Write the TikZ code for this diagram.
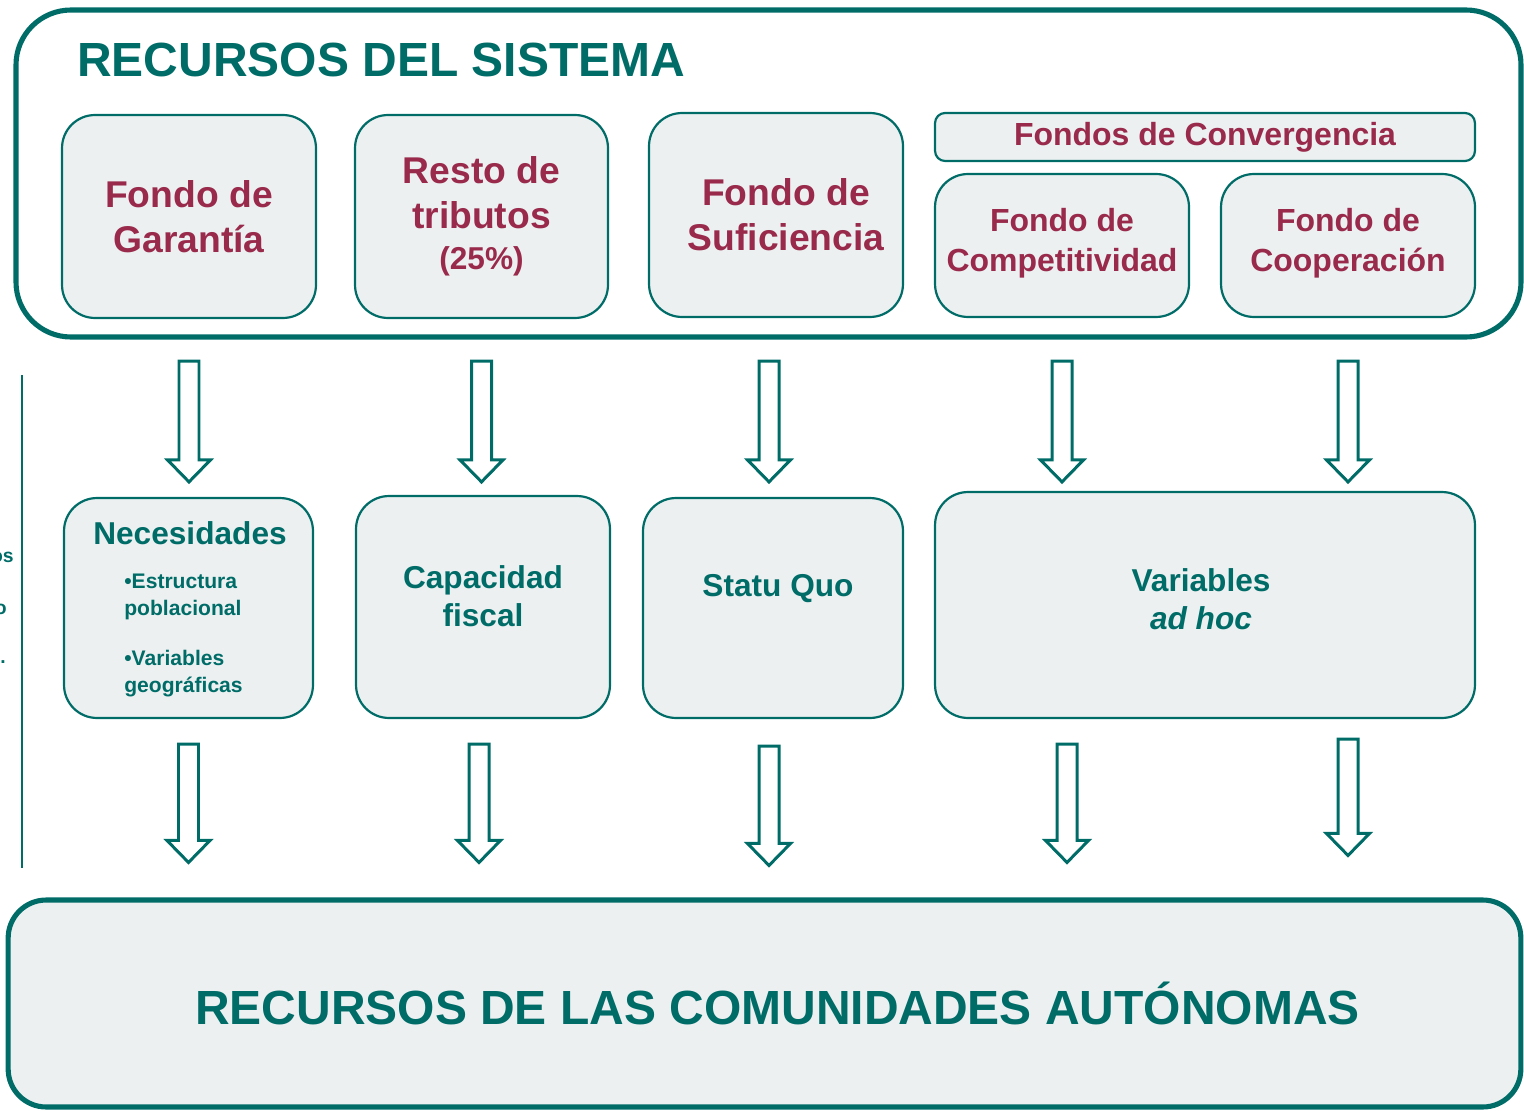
\documentclass[tikz,border=0pt]{standalone}
\usepackage{fontspec}
\setmainfont{Liberation Sans}
\usepackage{tikz}
\usetikzlibrary{calc}

\definecolor{tealdark}{RGB}{0,108,104}
\definecolor{crimson}{RGB}{153,42,75}
\definecolor{boxgray}{RGB}{236,240,241}

\tikzset{
  fondo/.style={draw=tealdark, fill=boxgray, line width=1.25pt, rounded corners=0.66cm,
    inner sep=0pt, align=center, text=crimson},
  bigfont/.style={font=\bfseries\fontsize{21.2}{25.5}\selectfont},
  midfont/.style={font=\bfseries\fontsize{18.2}{22.5}\selectfont},
  varbox/.style={draw=tealdark, fill=boxgray, line width=1.25pt, rounded corners=0.66cm,
    inner sep=0pt},
  vartext/.style={text=tealdark, align=center, inner sep=0pt, font=\bfseries\fontsize{18}{21.5}\selectfont},
  margintext/.style={anchor=east, inner sep=0pt, text=tealdark, font=\bfseries\fontsize{11}{14}\selectfont},
  hollow arrow/.style={draw=tealdark, fill=white, line width=1.7pt, line join=miter},
  frame/.style={draw=tealdark, line width=2.9pt}
}

% hollow block arrow: start anchor, target anchor, top gap, tip gap
\newcommand{\blockarrow}[4]{%
  \coordinate (ba-s) at ($(#1)+(0,#3)$);
  \coordinate (ba-t) at ($(#1 |- #2)+(0,-#4)$);
  \draw[hollow arrow] ($(ba-s)+(-10,0)$) -- ($(ba-t)+(-10,-22)$) -- ($(ba-t)+(-21.5,-22)$)
    -- (ba-t) -- ($(ba-t)+(21.5,-22)$) -- ($(ba-t)+(10,-22)$) -- ($(ba-s)+(10,0)$) -- cycle;}

\begin{document}
\begin{tikzpicture}[x=0.02cm, y=-0.02cm]
  \useasboundingbox (0,0) rectangle (1524,1111);
  \clip (0,0) rectangle (1524,1111);

  % Frame of the system resources
  \draw[frame, rounded corners=1.1cm] (16,10) rectangle (1521,337);
  \node[anchor=west, inner sep=0pt, text=tealdark, font=\bfseries\fontsize{27.3}{32}\selectfont]
    (sistema) at (77,60) {RECURSOS DEL SISTEMA};

  % Top row: the funds
  \node[fondo, bigfont, minimum width=5.08cm, minimum height=4.06cm] (garantia) at (189,216.5)
    {Fondo de\\Garantía};
  \node[fondo, bigfont, minimum width=5.06cm, minimum height=4.06cm] (resto) at (481.5,216.5)
    {Resto de\\tributos\\[-2pt]{\fontsize{18}{22}\selectfont(25\%)}};
  \node[fondo, bigfont, minimum width=5.08cm, minimum height=4.08cm] (suficiencia) at (776,215)
    {\hspace*{0.4cm}Fondo de\\\hspace*{0.4cm}Suficiencia};
  \node[fondo, midfont, rounded corners=0.2cm, minimum width=10.8cm, minimum height=0.96cm]
    (convergencia) at (1205,137) {Fondos de Convergencia};
  \node[fondo, midfont, minimum width=5.08cm, minimum height=2.86cm] (competitividad) at (1062,245.5)
    {Fondo de\\Competitividad\\[-16pt]};
  \node[fondo, midfont, minimum width=5.08cm, minimum height=2.86cm] (cooperacion) at (1348,245.5)
    {Fondo de\\Cooperación\\[-16pt]};

  % Middle row: the variables
  \node[varbox, minimum width=4.98cm, minimum height=4.4cm] (necesidades) at (188.5,608) {};
  \node[vartext, font=\bfseries\fontsize{18}{22}\selectfont] (necesidadestit) at (190,533) {Necesidades};
  \node[vartext, anchor=north west, align=left, font=\bfseries\fontsize{12}{15.3}\selectfont]
    (necesidadeslist) at (124,574) {•Estructura\\poblacional\\[13pt]•Variables\\geográficas};
  \node[varbox, minimum width=5.08cm, minimum height=4.44cm] (capacidad) at (483,607) {};
  \node[vartext] (capacidadtxt) at (483,596) {Capacidad\\fiscal};
  \node[varbox, minimum width=5.2cm, minimum height=4.4cm] (statuquo) at (773,608) {};
  \node[vartext] (statuquotxt) at (778,589) {Statu Quo};
  \node[varbox, minimum width=10.8cm, minimum height=4.52cm] (variables) at (1205,605) {};
  \node[vartext] (variablestxt) at (1201,599) {Variables\\\textit{ad hoc}};

  % Resources of the regions
  \node[varbox, line width=2.9pt, rounded corners=0.76cm, minimum width=30.26cm, minimum height=4.14cm,
    text=tealdark, font=\bfseries\fontsize{27.3}{32}\selectfont] (ccaa) at (764.5,1003.5)
    {\hspace*{0.52cm}RECURSOS DE LAS COMUNIDADES AUTÓNOMAS};

  % Left margin, cut off
  \draw[tealdark, line width=1.1pt] (22,375) -- (22,868);
  \node[margintext] (margena) at (14,557) {os};
  \node[margintext] (margenb) at (7,609) {o};
  \node[margintext] (margenc) at (6,662) {.};

  % Arrows from the funds to the variables
  \coordinate (squo) at ($(statuquo.north)+(-4,0)$);
  \blockarrow{garantia.south}{necesidades.north}{42}{15}
  \blockarrow{resto.south}{capacidad.north}{42}{13}
  \blockarrow{squo |- suficiencia.south}{statuquo.north}{43}{15}
  \blockarrow{competitividad.south}{variables.north}{43}{9}
  \blockarrow{cooperacion.south}{variables.north}{43}{9}

  % Arrows from the variables to the regions
  \coordinate (capa) at ($(capacidad.south)+(-4,0)$);
  \coordinate (squob) at ($(statuquo.south)+(-4,0)$);
  \coordinate (vara) at ($(competitividad.south |- variables.south)+(5,0)$);
  \coordinate (varb) at (cooperacion.south |- variables.south);
  \blockarrow{necesidades.south}{ccaa.north}{25}{35}
  \blockarrow{capa}{ccaa.north}{25}{35}
  \blockarrow{squob}{ccaa.north}{27}{32}
  \blockarrow{vara}{ccaa.north}{25}{35}
  \blockarrow{varb}{ccaa.north}{20}{42}
\end{tikzpicture}
\end{document}
